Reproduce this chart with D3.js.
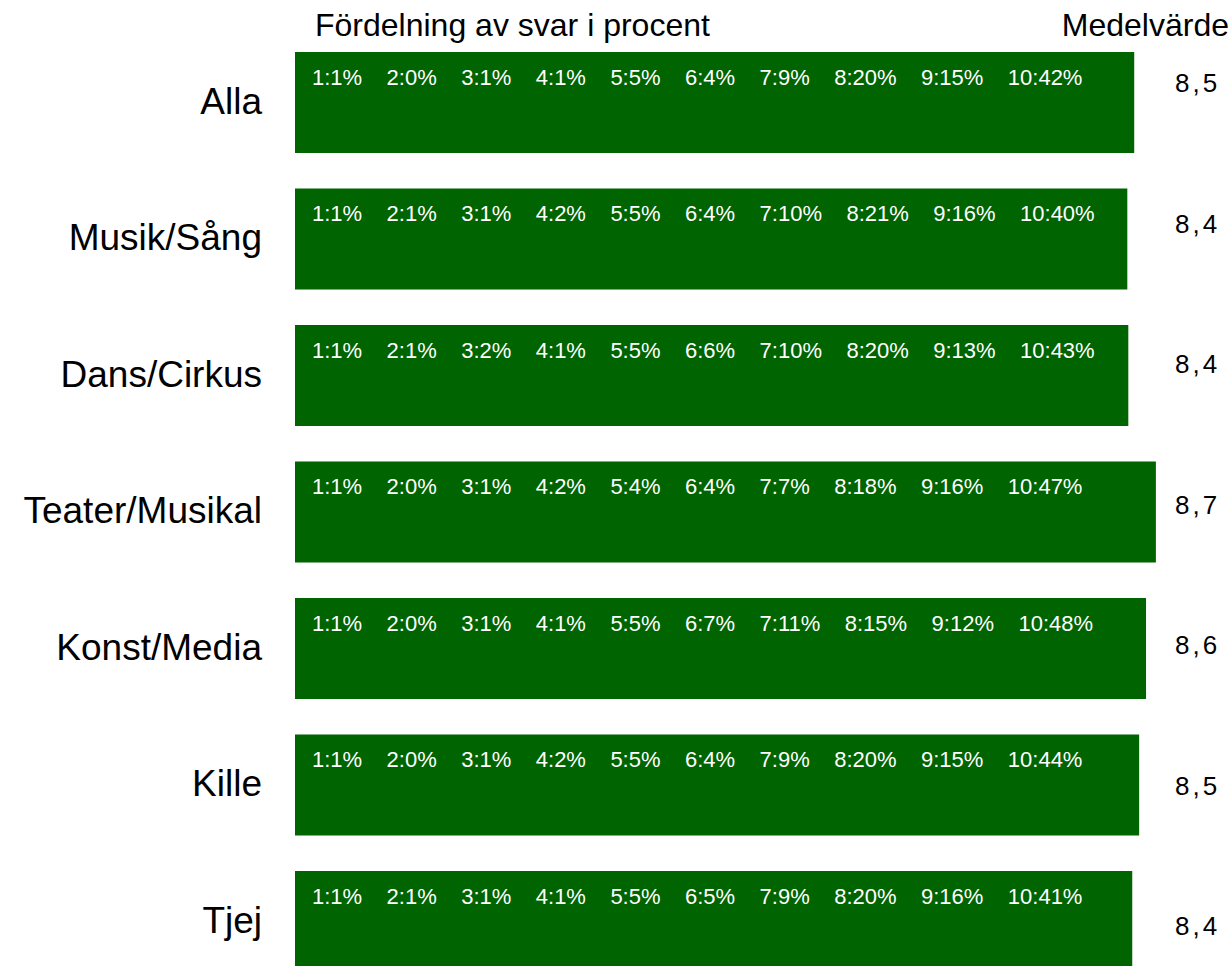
<!DOCTYPE html>
<html>
<head>
<meta charset="utf-8">
<script src="https://cdn.jsdelivr.net/npm/d3@7"></script>
<style>
  body { margin: 0; background: #fff; }
  svg { display: block; font-family: Arial, "Liberation Sans", sans-serif; }
</style>
</head>
<body>
<svg id="chart" width="1229" height="966"></svg>
<script>
const categories = ["Alla", "Musik/Sång", "Dans/Cirkus", "Teater/Musikal", "Konst/Media", "Kille", "Tjej"];
// bar length (mean, more precision than shown)
const medelExakt = [8.52, 8.45, 8.46, 8.74, 8.64, 8.57, 8.50];
const medelText  = ["8,5", "8,4", "8,4", "8,7", "8,6", "8,5", "8,4"];
const scoreLabels = [1, 2, 3, 4, 5, 6, 7, 8, 9, 10];
const fordelning = [
  [1, 0, 1, 1, 5, 4, 9, 20, 15, 42],
  [1, 1, 1, 2, 5, 4, 10, 21, 16, 40],
  [1, 1, 2, 1, 5, 6, 10, 20, 13, 43],
  [1, 0, 1, 2, 4, 4, 7, 18, 16, 47],
  [1, 0, 1, 1, 5, 7, 11, 15, 12, 48],
  [1, 0, 1, 2, 5, 4, 9, 20, 15, 44],
  [1, 1, 1, 1, 5, 5, 9, 20, 16, 41]
];

const svg = d3.select("#chart");
const left = 295, barW = 985;

const x = d3.scaleLinear().domain([0, 10]).range([left, left + barW]);
const y = d3.scaleBand().domain(categories)
  .range([52, 972]).paddingInner(0.26).paddingOuter(0);
// the mean column sits on its own, slightly wider spacing
const yVal = d3.scalePoint().domain(categories).range([83, 926]);

const data = categories.map((c, i) => ({
  cat: c, medel: medelExakt[i], txt: medelText[i], dist: fordelning[i]
}));

// headers
svg.append("text").attr("x", 315).attr("y", 36)
  .attr("font-size", 32).attr("fill", "#000")
  .text("Fördelning av svar i procent");
svg.append("text").attr("x", 1229).attr("y", 36)
  .attr("text-anchor", "end")
  .attr("font-size", 32).attr("fill", "#000")
  .text("Medelvärde");

const row = svg.selectAll("g.row").data(data).join("g").attr("class", "row");

row.append("rect")
  .attr("x", x(0))
  .attr("y", d => y(d.cat))
  .attr("width", d => x(d.medel) - x(0))
  .attr("height", y.bandwidth())
  .attr("fill", "#006400");

row.append("text")
  .attr("x", 312)
  .attr("y", d => y(d.cat) + 33)
  .attr("font-size", 22)
  .attr("fill", "#fff")
  .style("white-space", "pre")
  .text(d => d.dist.map((v, j) => `${scoreLabels[j]}:${v}%`).join("    "));

row.append("text")
  .attr("x", 262)
  .attr("y", d => y(d.cat) + y.bandwidth() / 2)
  .attr("dy", "0.31em")
  .attr("text-anchor", "end")
  .attr("font-size", 37)
  .attr("fill", "#000")
  .text(d => d.cat);

row.append("text")
  .attr("x", 1175)
  .attr("y", d => yVal(d.cat))
  .attr("dy", "0.35em")
  .attr("font-size", 26)
  .attr("letter-spacing", 3)
  .attr("fill", "#000")
  .text(d => d.txt);
</script>
</body>
</html>
